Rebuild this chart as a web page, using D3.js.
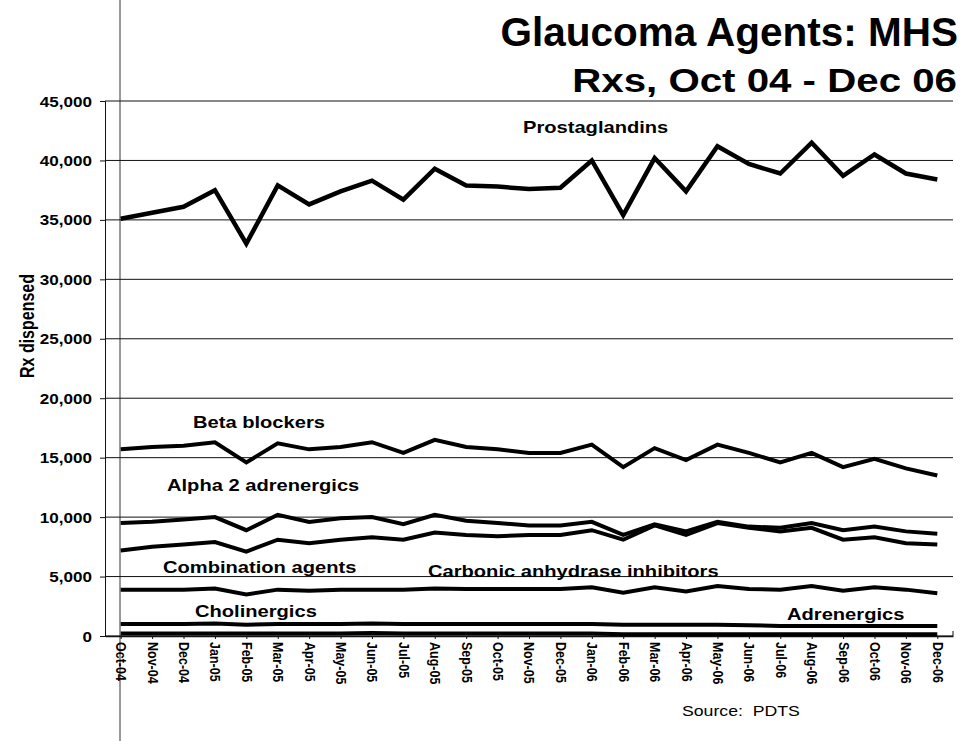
<!DOCTYPE html>
<html>
<head>
<meta charset="utf-8">
<script src="https://cdn.jsdelivr.net/npm/d3@7"></script>
<style>
  body { margin: 0; background: #fff; }
  svg { display: block; font-family: "Liberation Sans", Arial, sans-serif; }
</style>
</head>
<body>
<script>
var width = 967, height = 741;

var months = ["Oct-04", "Nov-04", "Dec-04", "Jan-05", "Feb-05", "Mar-05", "Apr-05", "May-05", "Jun-05",
              "Jul-05", "Aug-05", "Sep-05", "Oct-05", "Nov-05", "Dec-05", "Jan-06", "Feb-06", "Mar-06",
              "Apr-06", "May-06", "Jun-06", "Jul-06", "Aug-06", "Sep-06", "Oct-06", "Nov-06", "Dec-06"];

var prostaglandins = [35100, 35600, 36100, 37500, 33000, 37900, 36300, 37400, 38300, 36700, 39300, 37900, 37800, 37600,
                      37700, 40000, 35400, 40200, 37400, 41200, 39700, 38900, 41500, 38700, 40500, 38900, 38400];
var betaBlockers = [15700, 15900, 16000, 16300, 14600, 16200, 15700, 15900, 16300, 15400, 16500, 15900, 15700, 15400,
                    15400, 16100, 14200, 15800, 14800, 16100, 15400, 14600, 15400, 14200, 14900, 14100, 13500];
var alpha2 = [9500, 9600, 9800, 10000, 8900, 10200, 9600, 9900, 10000, 9400, 10200, 9700, 9500, 9300,
              9300, 9600, 8500, 9400, 8800, 9600, 9200, 9100, 9500, 8900, 9200, 8800, 8600];
var combination = [7200, 7500, 7700, 7900, 7100, 8100, 7800, 8100, 8300, 8100, 8700, 8500, 8400, 8500,
                   8500, 8900, 8100, 9300, 8500, 9500, 9100, 8800, 9100, 8100, 8300, 7800, 7700];
var carbonic = [3900, 3900, 3900, 4000, 3500, 3900, 3800, 3900, 3900, 3900, 4000, 3950, 3950, 3950,
                3950, 4100, 3650, 4100, 3750, 4200, 3950, 3900, 4200, 3800, 4100, 3900, 3600];
var cholinergics = [1000, 1000, 1000, 1050, 950, 1000, 1000, 1000, 1050, 1000, 1000, 1000, 1000, 1000,
                    1000, 1000, 950, 950, 950, 950, 900, 850, 850, 850, 850, 850, 850];
var adrenergics = [200, 200, 200, 200, 200, 200, 200, 200, 250, 200, 200, 200, 200, 200,
                   200, 200, 150, 150, 150, 150, 150, 150, 150, 150, 150, 150, 150];

var seriesNames = ["Prostaglandins", "Beta blockers", "Alpha 2 adrenergics", "Combination agents",
                   "Carbonic anhydrase inhibitors", "Cholinergics", "Adrenergics"];
var seriesValues = [prostaglandins, betaBlockers, alpha2, combination, carbonic, cholinergics, adrenergics];

var yTicks = [0, 5000, 10000, 15000, 20000, 25000, 30000, 35000, 40000, 45000];

var stretch = 1.22;

var svg = d3.select("body")
            .append("svg")
            .attr("width", width)
            .attr("height", height);

var x = d3.scalePoint().domain(months).range([105, 953]).padding(0.5);
var y = d3.scaleLinear().domain([0, 45000]).range([636, 101]);

// page rule line
svg.append("line")
   .attr("x1", 120).attr("x2", 120)
   .attr("y1", 0).attr("y2", height)
   .attr("stroke", "#333").attr("stroke-width", 1);

// gridlines
svg.append("g")
   .selectAll("line")
   .data(yTicks)
   .enter()
   .append("line")
   .attr("x1", 105).attr("x2", 953)
   .attr("y1", function(d) { return y(d); })
   .attr("y2", function(d) { return y(d); })
   .attr("stroke", "#111").attr("stroke-width", 1);

// y axis
var yAxis = svg.append("g")
   .attr("transform", "translate(105,0)")
   .call(d3.axisLeft(y).tickValues(yTicks).tickSize(5).tickFormat(d3.format(",")));
yAxis.select(".domain").attr("stroke", "#111");
yAxis.selectAll(".tick line").attr("stroke", "#111");
yAxis.selectAll(".tick text")
     .attr("x", null)
     .attr("dy", null)
     .attr("transform", function() { return "translate(-13,5) scale(" + stretch + ",1)"; })
     .attr("font-size", 14)
     .attr("font-weight", "bold")
     .attr("font-family", "Liberation Sans, Arial, sans-serif")
     .attr("fill", "#000");

// x axis
var xAxis = svg.append("g")
   .attr("transform", "translate(0,636)")
   .call(d3.axisBottom(x).tickSize(3).tickSizeOuter(0));
xAxis.select(".domain").attr("stroke", "#111").attr("stroke-width", 1.5);
xAxis.selectAll(".tick line").attr("stroke", "#111");
xAxis.selectAll(".tick text")
     .attr("y", null)
     .attr("dy", "0.35em")
     .attr("transform", "translate(0,6) scale(1.15,1) rotate(90)")
     .attr("text-anchor", "start")
     .attr("font-size", 12.5)
     .attr("font-weight", "bold")
     .attr("font-family", "Liberation Sans, Arial, sans-serif")
     .attr("fill", "#000");

svg.append("line")
   .attr("x1", 953).attr("x2", 953)
   .attr("y1", 631).attr("y2", 636)
   .attr("stroke", "#111");

// series lines
var line = d3.line()
             .x(function(d, i) { return x(months[i]); })
             .y(function(d) { return y(d); });

svg.append("g")
   .selectAll("path")
   .data(seriesValues)
   .enter()
   .append("path")
   .attr("d", function(d) { return line(d); })
   .attr("fill", "none")
   .attr("stroke", "#000")
   .attr("stroke-width", function(d, i) { return i == 0 ? 4.5 : 4; })
   .attr("stroke-linejoin", "miter");

// series labels
var labelSpots = [[523, 133], [193, 428], [167, 491], [163, 573], [428, 577], [195, 617], [787, 620]];

svg.append("g")
   .selectAll("text")
   .data(seriesNames)
   .enter()
   .append("text")
   .attr("transform", function(d, i) {
       return "translate(" + labelSpots[i][0] + "," + labelSpots[i][1] + ") scale(" + stretch + ",1)";
   })
   .attr("font-size", 16.5)
   .attr("font-weight", "bold")
   .text(function(d) { return d; });

// titles
svg.append("text")
   .attr("x", 958).attr("y", 46)
   .attr("text-anchor", "end")
   .attr("font-size", 40.5)
   .attr("font-weight", "bold")
   .text("Glaucoma Agents: MHS");

svg.append("text")
   .attr("transform", "translate(957,92) scale(" + stretch + ",1)")
   .attr("text-anchor", "end")
   .attr("font-size", 33)
   .attr("font-weight", "bold")
   .text("Rxs, Oct 04 - Dec 06");

svg.append("text")
   .attr("transform", "translate(34,326) scale(" + stretch + ",1) rotate(-90)")
   .attr("text-anchor", "middle")
   .attr("font-size", 16)
   .attr("font-weight", "bold")
   .text("Rx dispensed");

svg.append("text")
   .attr("transform", "translate(682,716) scale(" + stretch + ",1)")
   .attr("font-size", 14.5)
   .attr("xml:space", "preserve")
   .style("white-space", "pre")
   .text("Source:  PDTS");
</script>
</body>
</html>
